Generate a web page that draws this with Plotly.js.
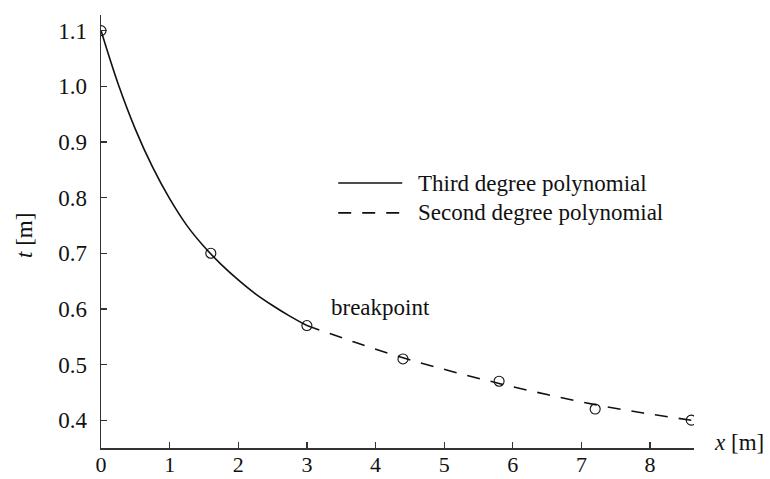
<!DOCTYPE html>
<html>
<head>
<meta charset="utf-8">
<script src="https://cdn.plot.ly/plotly-3.0.1.min.js"></script>
<style>
  html, body { margin: 0; padding: 0; background: #fff; }
  #chart { width: 770px; height: 479px; }
</style>
</head>
<body>
<div id="chart"></div>
<script>
// Measured points
const pointX = [0, 1.6, 3.0, 4.4, 5.8, 7.2, 8.6];
const pointT = [1.10, 0.70, 0.57, 0.51, 0.47, 0.42, 0.40];

// Third degree polynomial, sampled on [0, 3]
const cubicX = [0, 0.25, 0.5, 0.75, 1.0, 1.25, 1.5, 1.75, 2.0, 2.25, 2.5, 2.75, 3.0];
const cubicT = [1.100, 1.004, 0.923, 0.855, 0.798, 0.750, 0.712, 0.680, 0.652, 0.627, 0.606, 0.587, 0.570];

// Second degree polynomial, sampled on [3, 8.6]
const quadX = [3.0, 3.7, 4.4, 5.1, 5.8, 6.5, 7.2, 7.9, 8.6];
const quadT = [0.570, 0.540, 0.512, 0.488, 0.466, 0.446, 0.428, 0.413, 0.400];

const xTicks = [0, 1, 2, 3, 4, 5, 6, 7, 8];
const yTicks = [0.4, 0.5, 0.6, 0.7, 0.8, 0.9, 1.0, 1.1];

const legendLabels = ['Third degree polynomial', 'Second degree polynomial'];

const FONT = 'Liberation Serif, serif';
const FS = 23;
const INK = '#111';

const traces = [
  {
    x: cubicX, y: cubicT, type: 'scatter', mode: 'lines',
    line: { color: INK, width: 1.6, shape: 'spline' },
    name: legendLabels[0], hoverinfo: 'skip'
  },
  {
    x: quadX, y: quadT, type: 'scatter', mode: 'lines',
    line: { color: INK, width: 1.6, shape: 'spline', dash: '13px,11px' },
    name: legendLabels[1], hoverinfo: 'skip'
  },
  {
    x: pointX, y: pointT, type: 'scatter', mode: 'markers',
    marker: { symbol: 'circle-open', size: 10, color: INK, line: { width: 1.1, color: INK } },
    name: 'points', hoverinfo: 'skip'
  }
];

// Hand-drawn legend: line samples in paper space, labels as annotations
const legY = [0.612, 0.543];
const shapes = [
  { type: 'line', xref: 'paper', yref: 'paper', x0: 0.400, x1: 0.508, y0: legY[0], y1: legY[0],
    line: { color: INK, width: 1.6 } },
  { type: 'line', xref: 'paper', yref: 'paper', x0: 0.400, x1: 0.508, y0: legY[1], y1: legY[1],
    line: { color: INK, width: 1.6, dash: '13px,11px' } }
];

const annotations = [
  { xref: 'paper', yref: 'paper', x: 0.532, y: legY[0], xanchor: 'left', yanchor: 'middle',
    text: legendLabels[0], showarrow: false, font: { family: FONT, size: FS, color: INK } },
  { xref: 'paper', yref: 'paper', x: 0.532, y: legY[1], xanchor: 'left', yanchor: 'middle',
    text: legendLabels[1], showarrow: false, font: { family: FONT, size: FS, color: INK } },
  { xref: 'x', yref: 'y', x: 3.32, y: 0.602, xanchor: 'left', yanchor: 'middle',
    text: 'breakpoint', showarrow: false, font: { family: FONT, size: FS, color: INK } },
  { xref: 'paper', yref: 'y', x: 1.03, y: 0.36, xanchor: 'left', yanchor: 'middle',
    text: '<i>x</i> [m]', showarrow: false, font: { family: FONT, size: FS, color: INK } },
  { xref: 'paper', yref: 'paper', x: -0.128, y: 0.49, xanchor: 'center', yanchor: 'middle',
    text: '<i>t</i> [m]', textangle: -90, showarrow: false, font: { family: FONT, size: FS, color: INK } }
];

const layout = {
  width: 770, height: 479,
  margin: { l: 101, r: 76, t: 15, b: 31 },
  paper_bgcolor: '#fff', plot_bgcolor: '#fff',
  showlegend: false,
  font: { family: FONT, size: FS, color: INK },
  xaxis: {
    range: [0, 8.64], showgrid: false, zeroline: false,
    showline: true, linecolor: '#333', linewidth: 1.5,
    ticks: 'inside', ticklen: 6, tickwidth: 1.3, tickcolor: '#333',
    tickmode: 'array', tickvals: xTicks, ticktext: xTicks.map(String),
    tickfont: { family: FONT, size: 22, color: INK },
    ticklabelstandoff: -4
  },
  yaxis: {
    range: [0.35, 1.128], showgrid: false, zeroline: false,
    showline: true, linecolor: '#333', linewidth: 1.5,
    ticks: 'inside', ticklen: 6, tickwidth: 1.3, tickcolor: '#333',
    tickmode: 'array', tickvals: yTicks, ticktext: yTicks.map(v => v.toFixed(1)),
    ticklabelstandoff: 8
  },
  shapes: shapes,
  annotations: annotations
};

Plotly.newPlot('chart', traces, layout, { displayModeBar: false, staticPlot: true });
</script>
</body>
</html>
